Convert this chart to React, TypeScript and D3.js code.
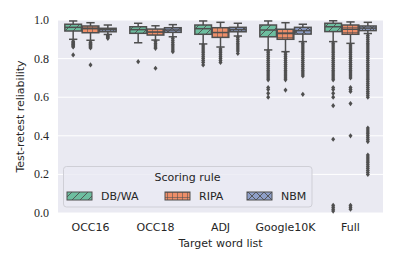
import * as d3 from 'd3';
import React from 'react';

const categories = ['OCC16', 'OCC18', 'ADJ', 'Google10K', 'Full'];
const rules = ['DB/WA', 'RIPA', 'NBM'];
const ruleColors = ['#6dbe9f', '#ee8e69', '#8e9fc9'];
const hatches = ['diag', 'plus', 'cross'];
const yTicks = [0.0, 0.2, 0.4, 0.6, 0.8, 1.0];

// [lower whisker, q1, median, q3, upper whisker] per category
const dbwaStats = [
  [0.9, 0.943, 0.962, 0.978, 0.995],
  [0.882, 0.931, 0.95, 0.965, 0.983],
  [0.876, 0.926, 0.955, 0.974, 0.995],
  [0.845, 0.913, 0.948, 0.974, 0.995],
  [0.888, 0.94, 0.965, 0.983, 0.996],
];
const ripaStats = [
  [0.895, 0.934, 0.955, 0.969, 0.986],
  [0.896, 0.922, 0.938, 0.953, 0.97],
  [0.86, 0.91, 0.935, 0.96, 0.988],
  [0.836, 0.9, 0.93, 0.952, 0.986],
  [0.879, 0.926, 0.952, 0.974, 0.99],
];
const nbmStats = [
  [0.925, 0.939, 0.95, 0.957, 0.974],
  [0.913, 0.936, 0.948, 0.96, 0.976],
  [0.917, 0.939, 0.95, 0.962, 0.983],
  [0.888, 0.927, 0.945, 0.962, 0.978],
  [0.93, 0.945, 0.958, 0.969, 0.988],
];

const dbwaOutliers = [
  [0.89, 0.885, 0.88, 0.875, 0.87, 0.865, 0.86, 0.819],
  [0.784],
  [0.87, 0.86, 0.85, 0.84, 0.83, 0.82, 0.81, 0.8, 0.79, 0.78, 0.767],
  [0.84, 0.83, 0.82, 0.81, 0.8, 0.79, 0.78, 0.77, 0.76, 0.75, 0.74, 0.73, 0.72, 0.71, 0.7, 0.69,
    0.65, 0.64, 0.62, 0.6],
  [0.88, 0.87, 0.86, 0.85, 0.84, 0.83, 0.82, 0.81, 0.8, 0.79, 0.78, 0.77, 0.76, 0.75, 0.74, 0.73,
    0.72, 0.71, 0.7, 0.69, 0.65, 0.64, 0.62, 0.6, 0.556, 0.382, 0.04, 0.03, 0.02, 0.01],
];
const ripaOutliers = [
  [0.885, 0.88, 0.875, 0.87, 0.865, 0.86, 0.855, 0.767],
  [0.89, 0.88, 0.87, 0.86, 0.853, 0.75],
  [0.85, 0.84, 0.83, 0.82, 0.81, 0.8, 0.79, 0.78],
  [0.83, 0.82, 0.81, 0.8, 0.79, 0.78, 0.77, 0.76, 0.75, 0.74, 0.73, 0.72, 0.71, 0.7, 0.69, 0.637],
  [0.87, 0.86, 0.85, 0.84, 0.83, 0.82, 0.81, 0.8, 0.79, 0.78, 0.77, 0.76, 0.75, 0.74, 0.73, 0.72,
    0.71, 0.7, 0.65, 0.64, 0.63, 0.567, 0.4, 0.04, 0.03, 0.02],
];
const nbmOutliers = [
  [0.92, 0.915, 0.91, 0.905],
  [0.905, 0.895, 0.885, 0.875, 0.865, 0.855, 0.845, 0.836],
  [0.91, 0.9, 0.89, 0.88, 0.87, 0.86, 0.85, 0.84, 0.827],
  [0.88, 0.87, 0.86, 0.85, 0.84, 0.83, 0.82, 0.81, 0.8, 0.79, 0.78, 0.77, 0.76, 0.75, 0.74, 0.73,
    0.72, 0.71, 0.615],
  [0.92, 0.91, 0.9, 0.89, 0.88, 0.87, 0.86, 0.85, 0.84, 0.83, 0.82, 0.81, 0.8, 0.79, 0.78, 0.77,
    0.76, 0.75, 0.74, 0.73, 0.72, 0.71, 0.7, 0.69, 0.68, 0.67, 0.66, 0.65, 0.64, 0.63, 0.62, 0.61,
    0.6, 0.44, 0.43, 0.42, 0.41, 0.4, 0.39, 0.38, 0.37, 0.3, 0.29, 0.28, 0.27, 0.26, 0.25, 0.24,
    0.23, 0.22, 0.21, 0.2],
];

const allStats = [dbwaStats, ripaStats, nbmStats];
const allOutliers = [dbwaOutliers, ripaOutliers, nbmOutliers];

const W = 399;
const H = 266;
const left = 58;
const right = 383;
const top = 20;
const bottom = 213;
const gray = '#4f4f4f';
const sans = '"DejaVu Sans", sans-serif';
const serif = '"Liberation Serif", serif';

export default function App() {
  const x = d3.scaleBand<string>().domain(categories).range([left, right]);
  const bw = x.bandwidth();
  const hue = d3.scaleBand<string>().domain(rules).range([bw * 0.1, bw * 0.9]);
  const boxW = hue.bandwidth() * 0.96;
  const y = d3.scaleLinear().domain([0, 1]).range([bottom, top]);
  const diamond = (cx: number, cy: number) =>
    `M${cx},${cy - 2.6}L${cx + 2},${cy}L${cx},${cy + 2.6}L${cx - 2},${cy}Z`;

  const legendEntries = [
    { x: 67, tx: 101 },
    { x: 165, tx: 199 },
    { x: 247, tx: 281 },
  ];

  return (
    <svg width={W} height={H} style={{ position: 'absolute', left: 0, top: 0, background: '#fff' }}>
      <defs>
        {rules.map((r, i) => (
          <React.Fragment key={r}>
            {hatches[i] === 'diag' && (
              <pattern id={`h${i}`} patternUnits="userSpaceOnUse" width={8} height={8}>
                <rect width={8} height={8} fill={ruleColors[i]} />
                <path d="M0,8L8,0M-2,2L2,-2M6,10L10,6" stroke={gray} strokeWidth={0.9} />
              </pattern>
            )}
            {hatches[i] === 'plus' && (
              <pattern id={`h${i}`} patternUnits="userSpaceOnUse" width={5} height={5}>
                <rect width={5} height={5} fill={ruleColors[i]} />
                <path d="M2.5,0V5M0,2.5H5" stroke={gray} strokeWidth={0.7} strokeOpacity={0.8} />
              </pattern>
            )}
            {hatches[i] === 'cross' && (
              <pattern id={`h${i}`} patternUnits="userSpaceOnUse" width={8} height={8}>
                <rect width={8} height={8} fill={ruleColors[i]} />
                <path d="M0,0L8,8M8,0L0,8" stroke={gray} strokeWidth={0.9} />
              </pattern>
            )}
          </React.Fragment>
        ))}
      </defs>

      <rect x={left} y={top} width={right - left} height={bottom - top} fill="#eaeaf2" />
      {yTicks.map((t) => (
        <line key={t} x1={left} x2={right} y1={y(t)} y2={y(t)} stroke="#fff" strokeWidth={1} />
      ))}

      {categories.map((c, ci) =>
        rules.map((r, ri) => {
          const [lo, q1, med, q3, hi] = allStats[ri][ci];
          const cx = (x(c) as number) + (hue(r) as number) + hue.bandwidth() / 2;
          return (
            <g key={c + r}>
              {allOutliers[ri][ci].map((v, k) => (
                <path key={k} d={diamond(cx, y(v))} fill={gray} />
              ))}
              <line x1={cx} x2={cx} y1={y(hi)} y2={y(q3)} stroke={gray} strokeWidth={1.5} />
              <line x1={cx} x2={cx} y1={y(q1)} y2={y(lo)} stroke={gray} strokeWidth={1.5} />
              <line x1={cx - boxW / 4} x2={cx + boxW / 4} y1={y(hi)} y2={y(hi)} stroke={gray} strokeWidth={1.5} />
              <line x1={cx - boxW / 4} x2={cx + boxW / 4} y1={y(lo)} y2={y(lo)} stroke={gray} strokeWidth={1.5} />
              <rect
                x={cx - boxW / 2}
                y={y(q3)}
                width={boxW}
                height={y(q1) - y(q3)}
                fill={`url(#h${ri})`}
                stroke={gray}
                strokeWidth={1.5}
              />
              <line x1={cx - boxW / 2} x2={cx + boxW / 2} y1={y(med)} y2={y(med)} stroke={gray} strokeWidth={1.5} />
            </g>
          );
        })
      )}

      {yTicks.map((t) => (
        <text key={t} x={49} y={y(t) + 4} textAnchor="end" fontFamily={serif} fontSize={12} fill="#262626">
          {t.toFixed(1)}
        </text>
      ))}
      {categories.map((c) => (
        <text
          key={c}
          x={(x(c) as number) + bw / 2}
          y={231}
          textAnchor="middle"
          fontFamily={sans}
          fontSize={11}
          fill="#262626"
        >
          {c}
        </text>
      ))}
      <text x={(left + right) / 2} y={247} textAnchor="middle" fontFamily={sans} fontSize={11} fill="#262626">
        Target word list
      </text>
      <text
        transform={`translate(24,${(top + bottom) / 2}) rotate(-90)`}
        textAnchor="middle"
        fontFamily={sans}
        fontSize={11}
        fill="#262626"
      >
        Test-retest reliability
      </text>

      <rect x={63.5} y={166.5} width={248.5} height={40.5} rx={3} fill="#eaeaf2" fillOpacity={0.8} stroke="#cfcfd6" />
      <text x={187.5} y={181} textAnchor="middle" fontFamily={sans} fontSize={11} fill="#262626">
        Scoring rule
      </text>
      {rules.map((r, i) => (
        <g key={r}>
          <rect x={legendEntries[i].x} y={192} width={25} height={8} fill={`url(#h${i})`} stroke={gray} strokeWidth={1} />
          <text x={legendEntries[i].tx} y={199.5} fontFamily={sans} fontSize={11} fill="#262626">
            {r}
          </text>
        </g>
      ))}
    </svg>
  );
}
